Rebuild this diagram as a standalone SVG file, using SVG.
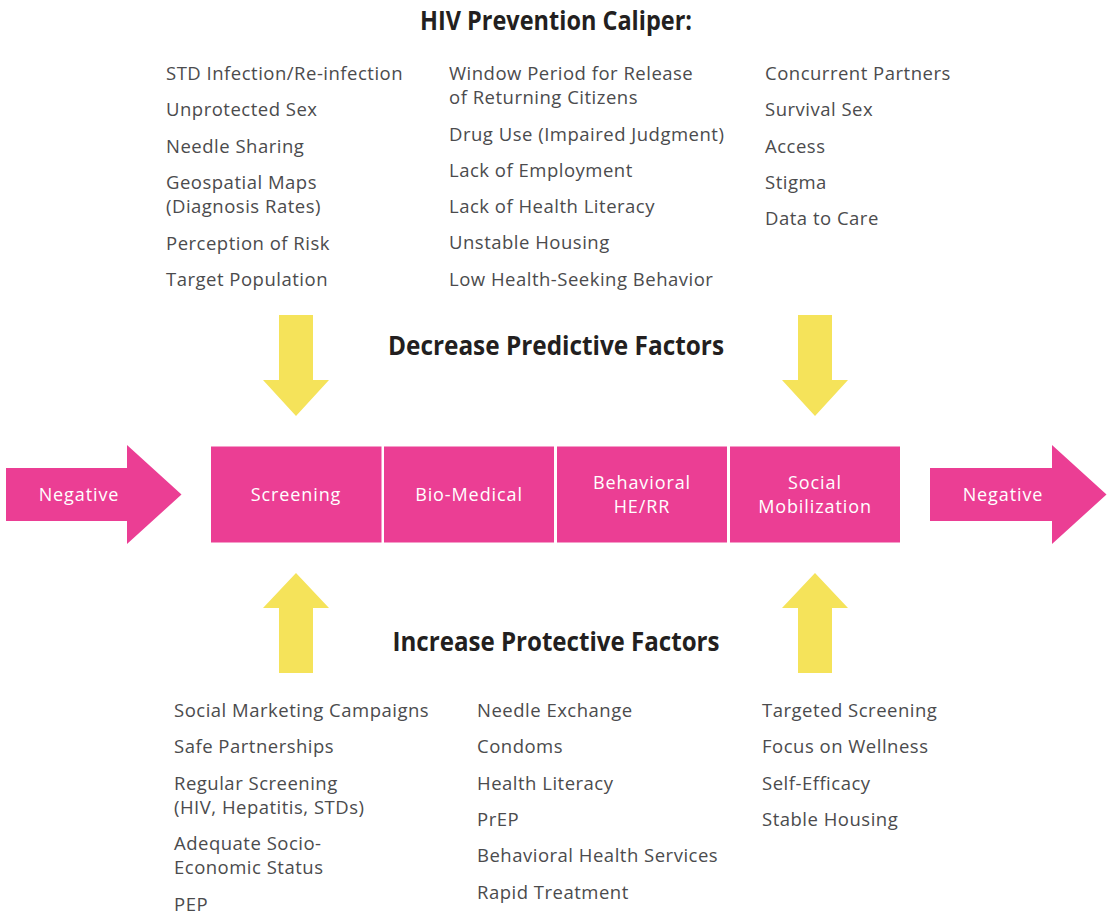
<svg xmlns="http://www.w3.org/2000/svg" width="1111" height="919" viewBox="0 0 1111 919">
<style>
.t{font-family:"Open Sans","Noto Sans",sans-serif;font-size:18.5px;letter-spacing:0.5px;fill:#4b4b4d}
.h{font-family:"Open Sans","Noto Sans",sans-serif;font-weight:700;font-size:27px;fill:#231f20}
.w{font-family:"Open Sans","Noto Sans",sans-serif;font-size:18px;letter-spacing:0.9px;fill:#ffffff;text-anchor:middle}
.p{fill:#eb3e94}
.y{fill:#f5e35a}
</style>
<rect width="1111" height="919" fill="#ffffff"/>
<text class="h" x="556" y="29.5" text-anchor="middle" textLength="272" lengthAdjust="spacingAndGlyphs">HIV Prevention Caliper:</text>
<text class="h" x="556" y="354.5" text-anchor="middle" textLength="336" lengthAdjust="spacingAndGlyphs">Decrease Predictive Factors</text>
<text class="h" x="556" y="651" text-anchor="middle" textLength="327" lengthAdjust="spacingAndGlyphs">Increase Protective Factors</text>

<g id="predictive-col1">
<text class="t" x="166" y="80">STD Infection/Re-infection</text>
<text class="t" x="166" y="116">Unprotected Sex</text>
<text class="t" x="166" y="152.5">Needle Sharing</text>
<text class="t" x="166" y="189">Geospatial Maps</text>
<text class="t" x="166" y="213">(Diagnosis Rates)</text>
<text class="t" x="166" y="249.5">Perception of Risk</text>
<text class="t" x="166" y="286">Target Population</text>
</g>
<g id="predictive-col2">
<text class="t" x="449" y="80">Window Period for Release</text>
<text class="t" x="449" y="104">of Returning Citizens</text>
<text class="t" x="449" y="141">Drug Use (Impaired Judgment)</text>
<text class="t" x="449" y="177">Lack of Employment</text>
<text class="t" x="449" y="213">Lack of Health Literacy</text>
<text class="t" x="449" y="249">Unstable Housing</text>
<text class="t" x="449" y="286">Low Health-Seeking Behavior</text>
</g>
<g id="predictive-col3">
<text class="t" x="765" y="80">Concurrent Partners</text>
<text class="t" x="765" y="116">Survival Sex</text>
<text class="t" x="765" y="153">Access</text>
<text class="t" x="765" y="189">Stigma</text>
<text class="t" x="765" y="225">Data to Care</text>
</g>

<g id="protective-col1">
<text class="t" x="174" y="717">Social Marketing Campaigns</text>
<text class="t" x="174" y="753">Safe Partnerships</text>
<text class="t" x="174" y="790">Regular Screening</text>
<text class="t" x="174" y="814">(HIV, Hepatitis, STDs)</text>
<text class="t" x="174" y="850">Adequate Socio-</text>
<text class="t" x="174" y="874">Economic Status</text>
<text class="t" x="174" y="911">PEP</text>
</g>
<g id="protective-col2">
<text class="t" x="477" y="717">Needle Exchange</text>
<text class="t" x="477" y="753">Condoms</text>
<text class="t" x="477" y="790">Health Literacy</text>
<text class="t" x="477" y="826">PrEP</text>
<text class="t" x="477" y="862">Behavioral Health Services</text>
<text class="t" x="477" y="899">Rapid Treatment</text>
</g>
<g id="protective-col3">
<text class="t" x="762" y="717">Targeted Screening</text>
<text class="t" x="762" y="753">Focus on Wellness</text>
<text class="t" x="762" y="790">Self-Efficacy</text>
<text class="t" x="762" y="826">Stable Housing</text>
</g>

<g id="connectors">
<polygon class="y" points="279,315 313,315 313,380 329,380 296,416 263,380 279,380"/>
<polygon class="y" points="798,315 832,315 832,380 848,380 815,416 782,380 798,380"/>
<polygon class="y" points="279,673 313,673 313,608 329,608 296,573 263,608 279,608"/>
<polygon class="y" points="798,673 832,673 832,608 848,608 815,573 782,608 798,608"/>
</g>

<g id="negative-left">
<polygon class="p" points="6,468 127,468 127,445 181.5,494.5 127,544 127,521 6,521"/>
<text class="w" x="79" y="501">Negative</text>
</g>
<g id="screening">
<rect class="p" x="211" y="446.5" width="170.5" height="96"/>
<text class="w" x="296" y="501">Screening</text>
</g>
<g id="bio-medical">
<rect class="p" x="384" y="446.5" width="170" height="96"/>
<text class="w" x="469" y="501">Bio-Medical</text>
</g>
<g id="behavioral">
<rect class="p" x="557" y="446.5" width="170" height="96"/>
<text class="w" x="642" y="488.5">Behavioral</text>
<text class="w" x="642" y="513">HE/RR</text>
</g>
<g id="social-mobilization">
<rect class="p" x="730" y="446.5" width="170" height="96"/>
<text class="w" x="815" y="488.5">Social</text>
<text class="w" x="815" y="513">Mobilization</text>
</g>
<g id="negative-right">
<polygon class="p" points="930,468 1052,468 1052,445 1106.5,494.5 1052,544 1052,521 930,521"/>
<text class="w" x="1003" y="501">Negative</text>
</g>
</svg>
